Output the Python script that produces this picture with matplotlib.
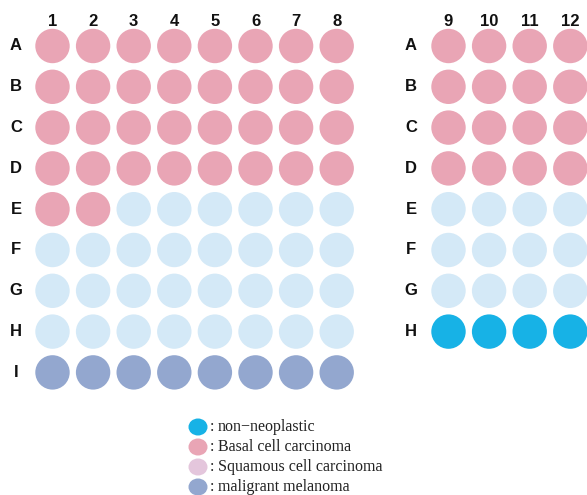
import matplotlib
matplotlib.use("Agg")
import matplotlib.pyplot as plt
from matplotlib.patches import Circle, Ellipse

# ---- data ----
left_cols = ["1", "2", "3", "4", "5", "6", "7", "8"]
left_rows = ["A", "B", "C", "D", "E", "F", "G", "H", "I"]
left_cells = [
    "BBBBBBBB",
    "BBBBBBBB",
    "BBBBBBBB",
    "BBBBBBBB",
    "BBLLLLLL",
    "LLLLLLLL",
    "LLLLLLLL",
    "LLLLLLLL",
    "MMMMMMMM",
]
right_cols = ["9", "10", "11", "12"]
right_rows = ["A", "B", "C", "D", "E", "F", "G", "H"]
right_cells = [
    "BBBB",
    "BBBB",
    "BBBB",
    "BBBB",
    "LLLL",
    "LLLL",
    "LLLL",
    "NNNN",
]
legend_codes = ["N", "B", "S", "M"]
legend_labels = ["non\u2212neoplastic", "Basal cell carcinoma",
                 "Squamous cell carcinoma", "maligrant melanoma"]

colors = {
    "N": "#17b2e6",
    "B": "#e9a5b5",
    "S": "#e4c6dc",
    "M": "#93a7cf",
    "L": "#d4e9f7",
}

# ---- layout ----
W, H = 587, 495
fig = plt.figure(figsize=(W / 100, H / 100), dpi=100)
ax = fig.add_axes([0, 0, 1, 1])
ax.set_xlim(0, W)
ax.set_ylim(H, 0)
ax.set_aspect("equal")
ax.axis("off")

step_x, step_y = 40.6, 40.8
r = 17.2
label_font = dict(family="Liberation Sans", fontweight="bold", fontsize=12,
                  color="#111111", ha="center", va="center")


def draw_plate(cells, rows, cols, x0, y0, row_label_x, col_label_y):
    for i, row in enumerate(cells):
        for j, code in enumerate(row):
            cx = x0 + j * step_x
            cy = y0 + i * step_y
            ax.add_patch(Circle((cx, cy), r, facecolor=colors[code],
                                edgecolor="none"))
    for j, c in enumerate(cols):
        ax.text(x0 + j * step_x, col_label_y, c, **label_font)
    for i, rl in enumerate(rows):
        ax.text(row_label_x, y0 + i * step_y, rl, **label_font)


draw_plate(left_cells, left_rows, left_cols, 52.5, 46, 16, 21)
draw_plate(right_cells, right_rows, right_cols, 448.5, 46, 411, 21)

# legend
ly0, ldy = 427, 20
for k, (code, lab) in enumerate(zip(legend_codes, legend_labels)):
    y = ly0 + k * ldy
    ax.add_patch(Ellipse((198, y), 19, 17, facecolor=colors[code],
                         edgecolor="none"))
    ax.text(210, y, ":", family="Liberation Serif", fontsize=11.5,
            ha="left", va="center", color="#222222")
    ax.text(218, y, lab, family="Liberation Serif", fontsize=11.5,
            ha="left", va="center", color="#222222")

fig.savefig("out.png", dpi=100, facecolor="white")
